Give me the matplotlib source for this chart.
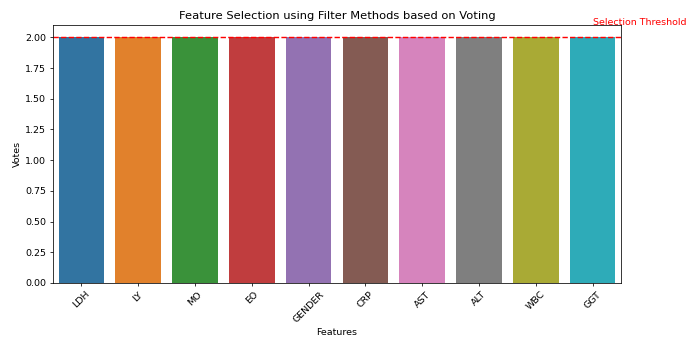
import matplotlib
matplotlib.use("Agg")
import matplotlib.pyplot as plt
import seaborn as sns

features = ["LDH", "LY", "MO", "EO", "GENDER", "CRP", "AST", "ALT", "WBC", "GGT"]
votes = [2, 2, 2, 2, 2, 2, 2, 2, 2, 2]
threshold = 2

# drawn at 100 dpi scale, saved smaller so the output is 688x338
fig = plt.figure(figsize=(10, 338 / 68.8), dpi=68.8)
ax = fig.add_axes([53 / 688, 1 - 283 / 338, (621 - 53) / 688, (283 - 25) / 338])
sns.barplot(x=features, y=votes, hue=features, palette="tab10", legend=False, ax=ax)
ax.axhline(y=threshold, color="r", linestyle="--")
ax.text(len(features) - 1, threshold + 0.1, "Selection Threshold", color="red")
ax.set_title("Feature Selection using Filter Methods based on Voting")
ax.set_xlabel("Features")
ax.set_ylabel("Votes")
plt.setp(ax.get_xticklabels(), rotation=45)
fig.savefig("out.png", dpi=68.8)
